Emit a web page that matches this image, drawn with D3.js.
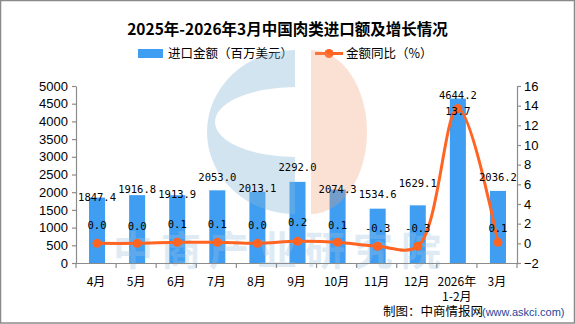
<!DOCTYPE html>
<html>
<head>
<meta charset="utf-8">
<script src="https://cdn.jsdelivr.net/npm/d3@7"></script>
<style>
    html, body { margin: 0; padding: 0; background: #fff; }
    svg { display: block; }
</style>
</head>
<body>
<svg id="chart" width="575" height="324"></svg>
<script>
// 月份、进口金额（百万美元）、金额同比（%）
const months = [`4月`, `5月`, `6月`, `7月`, `8月`, `9月`, `10月`, `11月`, `12月`, `2026年\n1-2月`, `3月`];
const importValue = [1847.4, 1916.8, 1913.9, 2053.0, 2013.1, 2292.0, 2074.3, 1534.6, 1629.1, 4644.2, 2036.2];
const yoyGrowth = [0.0, 0.0, 0.1, 0.1, 0.0, 0.2, 0.1, -0.3, -0.3, 13.7, 0.1];
const leftTicks = [0, 500, 1000, 1500, 2000, 2500, 3000, 3500, 4000, 4500, 5000];
const rightTicks = [-2, 0, 2, 4, 6, 8, 10, 12, 14, 16];

// label nudges so the texts don't collide
const barLabelNudge = [0, -6, -1, -13, -3, -15, 0, -14, -22, -3, -14];
const lineLabelNudge = [-18, -17, -18, -18, -18, -19, -17, -18, -18, 3, -14];

const width = 575;
const height = 324;
const margin = { top: 86, right: 58, bottom: 61, left: 76 };

const barColor = `#409ef2`;
const lineColor = `#ff6422`;
const axisColor = `#8c8c8c`;
const cjkFont = `"Noto Sans CJK SC", "Noto Sans", sans-serif`;
const numFont = `"DejaVu Sans Mono", "Liberation Mono", monospace`;

const svg = d3.select(`#chart`);

const xScale = d3.scaleBand()
    .domain(months)
    .range([margin.left, width - margin.right]);

const yLeft = d3.scaleLinear()
    .domain([0, 5000])
    .range([height - margin.bottom, margin.top]);

const yRight = d3.scaleLinear()
    .domain([-2, 16])
    .range([height - margin.bottom, margin.top]);

const center = d => xScale(d) + xScale.bandwidth() / 2 + 1;
const barWidth = xScale.bandwidth() * 0.4;

// frame
svg.append(`rect`)
    .attr(`x`, 0.5)
    .attr(`y`, 0.5)
    .attr(`width`, width - 1)
    .attr(`height`, height - 1.5)
    .attr(`fill`, `#fff`)
    .attr(`stroke`, `#8a8a8a`)
    .attr(`stroke-width`, 1.5);

// title
svg.append(`text`)
    .attr(`x`, width / 2)
    .attr(`y`, 35)
    .attr(`text-anchor`, `middle`)
    .attr(`font-family`, cjkFont)
    .attr(`font-weight`, `bold`)
    .attr(`font-size`, `15.5px`)
    .attr(`fill`, `#000`)
    .text(`2025年-2026年3月中国肉类进口额及增长情况`);

// legend
svg.append(`rect`)
    .attr(`x`, 138)
    .attr(`y`, 49)
    .attr(`width`, 25)
    .attr(`height`, 9)
    .attr(`fill`, barColor);

svg.append(`text`)
    .attr(`x`, 168)
    .attr(`y`, 58)
    .attr(`font-family`, cjkFont)
    .attr(`font-size`, `12.5px`)
    .text(`进口金额（百万美元）`);

svg.append(`line`)
    .attr(`x1`, 315)
    .attr(`x2`, 343)
    .attr(`y1`, 53.5)
    .attr(`y2`, 53.5)
    .attr(`stroke`, lineColor)
    .attr(`stroke-width`, 3);

svg.append(`circle`)
    .attr(`cx`, 329)
    .attr(`cy`, 53.5)
    .attr(`r`, 4.5)
    .attr(`fill`, lineColor);

svg.append(`text`)
    .attr(`x`, 346)
    .attr(`y`, 58)
    .attr(`font-family`, cjkFont)
    .attr(`font-size`, `12.5px`)
    .text(`金额同比（%）`);

// bars
svg.append(`g`)
    .selectAll(`rect`)
    .data(importValue)
    .enter()
    .append(`rect`)
    .attr(`x`, (d, i) => center(months[i]) - barWidth / 2)
    .attr(`y`, d => yLeft(d))
    .attr(`width`, barWidth)
    .attr(`height`, d => yLeft(0) - yLeft(d))
    .attr(`fill`, barColor);

// watermark: logo and name
const mark = svg.append(`g`).attr(`pointer-events`, `none`);

mark.append(`path`)
    .attr(`d`, `M295,50 A88,82 0 0 0 295,214 L295,157 A80,35 0 0 1 295,87 Z`)
    .attr(`fill`, `#8ab8d8`)
    .attr(`opacity`, 0.38);

mark.append(`path`)
    .attr(`d`, `M311,50 A56,82 0 0 1 311,214 Z`)
    .attr(`fill`, `#f29a70`)
    .attr(`opacity`, 0.3);

mark.append(`text`)
    .attr(`x`, 113)
    .attr(`y`, 265)
    .attr(`font-family`, cjkFont)
    .attr(`font-weight`, `bold`)
    .attr(`font-size`, `40px`)
    .attr(`letter-spacing`, `8px`)
    .attr(`fill`, `#9cc3de`)
    .attr(`opacity`, 0.32)
    .text(`中商产业研究院`);

// axes
const styleAxis = (g) => {
    g.select(`.domain`).attr(`stroke`, axisColor).attr(`stroke-width`, 1.2);
    g.selectAll(`.tick line`).attr(`stroke`, axisColor).attr(`stroke-width`, 1.2);
    g.selectAll(`.tick text`)
        .attr(`fill`, `#000`)
        .attr(`font-family`, `"Liberation Sans", Arial, sans-serif`)
        .attr(`font-size`, `13px`);
};

svg.append(`g`)
    .attr(`transform`, `translate(${margin.left}, 0)`)
    .call(d3.axisLeft(yLeft).tickValues(leftTicks).tickFormat(d3.format(`d`))
        .tickSize(4).tickSizeOuter(0).tickPadding(4))
    .call(styleAxis);

svg.append(`g`)
    .attr(`transform`, `translate(${width - margin.right}, 0)`)
    .call(d3.axisRight(yRight).tickValues(rightTicks).tickFormat(d3.format(`d`))
        .tickSize(4).tickSizeOuter(0).tickPadding(3))
    .call(styleAxis);

// x axis: ticks sit on band boundaries
const bounds = months.map(m => xScale(m)).concat([width - margin.right]);
const xAxis = svg.append(`g`);

xAxis.append(`line`)
    .attr(`x1`, margin.left)
    .attr(`x2`, width - margin.right)
    .attr(`y1`, yLeft(0) + 0.5)
    .attr(`y2`, yLeft(0) + 0.5)
    .attr(`stroke`, axisColor)
    .attr(`stroke-width`, 1.2);

xAxis.selectAll(`.xtick`)
    .data(bounds)
    .enter()
    .append(`line`)
    .attr(`x1`, d => d)
    .attr(`x2`, d => d)
    .attr(`y1`, yLeft(0))
    .attr(`y2`, yLeft(0) + 5)
    .attr(`stroke`, axisColor)
    .attr(`stroke-width`, 1.2);

xAxis.selectAll(`.xlabel`)
    .data(months)
    .enter()
    .append(`text`)
    .attr(`x`, d => center(d) - 1)
    .attr(`y`, 286)
    .attr(`text-anchor`, `middle`)
    .attr(`font-family`, cjkFont)
    .attr(`font-size`, `12px`)
    .each(function (d) {
        d.split(`\n`).forEach((part, i) => {
            d3.select(this).append(`tspan`)
                .attr(`x`, center(d) - 1)
                .attr(`dy`, i === 0 ? 0 : 15)
                .text(part);
        });
    });

// growth line (smoothed)
const line = d3.line()
    .x((d, i) => center(months[i]))
    .y(d => yRight(d))
    .curve(d3.curveCatmullRom.alpha(0.5));

svg.append(`path`)
    .datum(yoyGrowth)
    .attr(`d`, line)
    .attr(`fill`, `none`)
    .attr(`stroke`, lineColor)
    .attr(`stroke-width`, 3)
    .attr(`stroke-linejoin`, `round`);

svg.append(`g`)
    .selectAll(`circle`)
    .data(yoyGrowth)
    .enter()
    .append(`circle`)
    .attr(`cx`, (d, i) => center(months[i]))
    .attr(`cy`, d => yRight(d))
    .attr(`r`, 4.5)
    .attr(`fill`, lineColor);

// value labels
svg.append(`g`)
    .selectAll(`text`)
    .data(importValue)
    .enter()
    .append(`text`)
    .attr(`x`, (d, i) => center(months[i]))
    .attr(`y`, (d, i) => yLeft(d) + barLabelNudge[i])
    .attr(`dy`, `0.35em`)
    .attr(`text-anchor`, `middle`)
    .attr(`font-family`, numFont)
    .attr(`font-size`, `10.5px`)
    .attr(`fill`, `#000`)
    .text(d => d.toFixed(1));

svg.append(`g`)
    .selectAll(`text`)
    .data(yoyGrowth)
    .enter()
    .append(`text`)
    .attr(`x`, (d, i) => center(months[i]))
    .attr(`y`, (d, i) => yRight(d) + lineLabelNudge[i])
    .attr(`dy`, `0.35em`)
    .attr(`text-anchor`, `middle`)
    .attr(`font-family`, numFont)
    .attr(`font-size`, `10.5px`)
    .attr(`fill`, `#000`)
    .text(d => d.toFixed(1));

// source note
svg.append(`text`)
    .attr(`x`, 383)
    .attr(`y`, 316)
    .attr(`font-family`, cjkFont)
    .attr(`font-size`, `12.5px`)
    .attr(`fill`, `#000`)
    .text(`制图：中商情报网`);

svg.append(`text`)
    .attr(`x`, 482)
    .attr(`y`, 316)
    .attr(`font-family`, `"Liberation Sans", Arial, sans-serif`)
    .attr(`font-size`, `11px`)
    .attr(`fill`, `#24479b`)
    .text(`(www.askci.com)`);
</script>
</body>
</html>
